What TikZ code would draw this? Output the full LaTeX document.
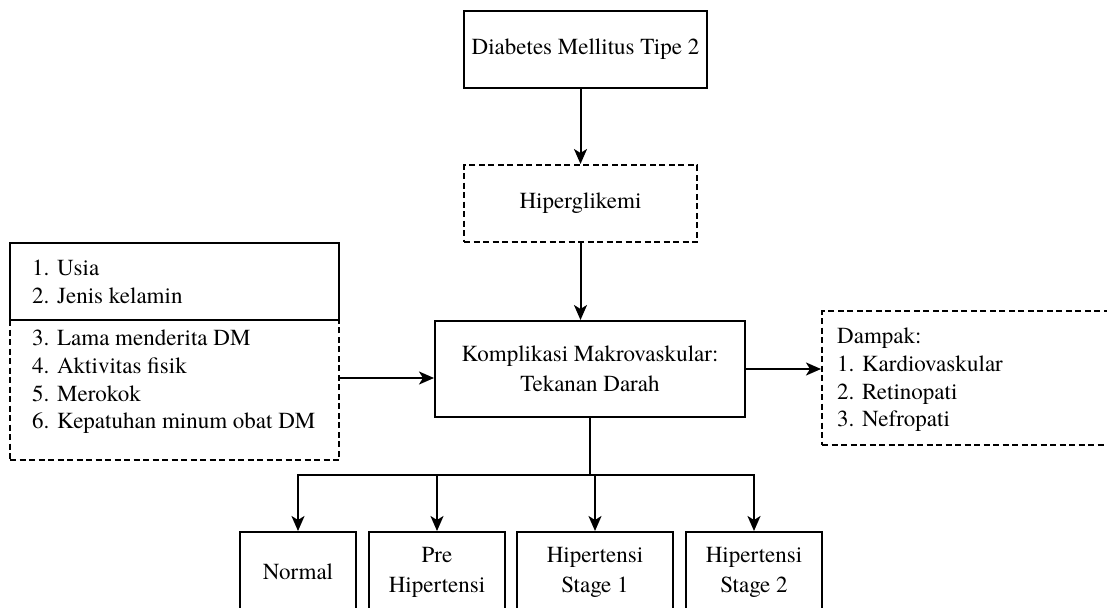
\documentclass[tikz,border=0pt]{standalone}
\usepackage{fontspec}
\setmainfont{TeX Gyre Termes}
\usetikzlibrary{arrows.meta}
\begin{document}
\begin{tikzpicture}[x=1pt,y=-1pt,
  every node/.style={font=\fontsize{23}{30}\selectfont, text=black},
  box/.style={draw=black, line width=2pt, inner sep=0pt, align=center},
  dbox/.style={box, dash pattern=on 6pt off 3.5pt},
  listtext/.style={align=left, inner sep=0pt, anchor=west, font=\fontsize{23}{27.6}\selectfont},
  conn/.style={draw=black, line width=2pt},
  arr/.style={conn, -{Stealth[length=15pt,width=13pt,inset=4pt]}}]
\useasboundingbox (0,0) rectangle (1107,607);
\clip (0,0) rectangle (1107,607);
\fill[white] (0,0) rectangle (1107,607);
% boxes
\node[box, minimum width=243pt, minimum height=77pt] (dm) at (585.5,49.5) {Diabetes Mellitus Tipe 2};
\node[dbox, minimum width=233pt, minimum height=77pt] (hyp) at (580.5,203.5) {Hiperglikemi};
\node[box, minimum width=310pt, minimum height=96pt] (komp) at (590,369) {Komplikasi Makrovaskular:\\Tekanan Darah};
\node[dbox, minimum width=329pt, minimum height=140pt] (risk2) at (174.5,390) {};
\node[box, fill=white, minimum width=329pt, minimum height=77pt] (risk1) at (174.5,281.5) {};
\node[listtext] (risk1t) at (32,282) {1. Usia\\2. Jenis kelamin};
\node[listtext] (risk2t) at (32,382) {3. Lama menderita DM\\4. Aktivitas fisik\\5. Merokok\\6. Kepatuhan minum obat DM};
\node[dbox, minimum width=300pt, minimum height=134pt] (dampak) at (972,378) {};
\node[listtext] (dampakt) at (837,380) {Dampak:\\1. Kardiovaskular\\2. Retinopati\\3. Nefropati};
\node[box, minimum width=116pt, minimum height=80pt] (normal) at (298,572) {Normal};
\node[box, minimum width=136pt, minimum height=80pt] (pre) at (437,572) {Pre\\Hipertensi};
\node[box, minimum width=156pt, minimum height=80pt] (st1) at (595,572) {Hipertensi\\Stage 1};
\node[box, minimum width=136pt, minimum height=80pt] (st2) at (754,572) {Hipertensi\\Stage 2};
% connectors
\draw[arr] (hyp.north |- dm.south) -- (hyp.north);
\draw[arr] (hyp.south) -- (hyp.south |- komp.north);
\coordinate (lin) at (338,378);
\draw[arr] (lin) -- (komp.west |- lin);
\draw[arr] (komp.east) -- (dampak.west |- komp.east);
\coordinate (br) at (590,475);
\draw[conn] (komp.south) -- (br);
\draw[arr] (br) -| (normal.north);
\draw[arr] (br) -| (pre.north);
\draw[arr] (br) -| (st1.north);
\draw[arr] (br) -| (st2.north);
\end{tikzpicture}
\end{document}
